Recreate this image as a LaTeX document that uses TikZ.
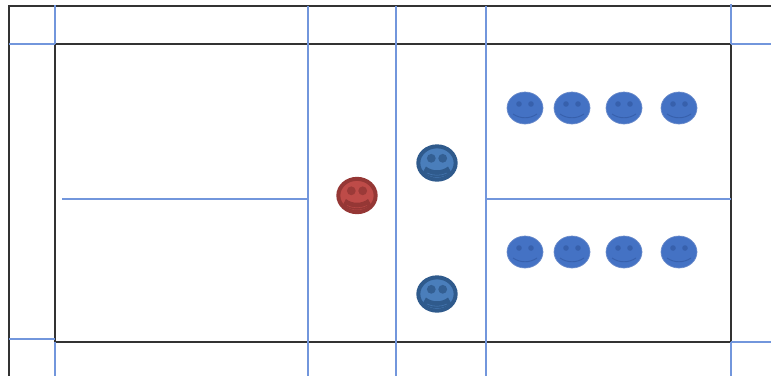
\documentclass[tikz,border=0pt]{standalone}
\usepackage{xcolor}
\usetikzlibrary{shapes.geometric}
\definecolor{CourtBlack}{HTML}{333333}
\definecolor{CourtBlue}{HTML}{7296DC}
\definecolor{SmallFill}{HTML}{4472C4}
\definecolor{SmallEdge}{HTML}{6C8CCB}
\definecolor{SmallDark}{HTML}{3760AC}
\definecolor{BlueFill}{HTML}{4A7EBB}
\definecolor{BlueDark}{HTML}{2F5A8C}
\definecolor{RedFill}{HTML}{BE4B48}
\definecolor{RedDark}{HTML}{953735}
\tikzset{
  border/.style={draw=CourtBlack,line width=1.5pt},
  guide/.style={draw=CourtBlue,line width=1.5pt},
  smallbody/.style={ellipse,draw=SmallEdge,line width=0.5pt,fill=SmallFill,inner sep=0pt,
    minimum width=27pt,minimum height=24pt},
  bigbody/.style={ellipse,line width=3pt,inner sep=0pt,
    minimum width=28pt,minimum height=25pt}
}
% small smiley: name, x, y
\newcommand{\smallface}[3]{
  \node[smallbody] (#1) at (#2,#3) {};
  \begin{scope}[shift={(#1.center)}]
    \fill[SmallDark] (-6,-4) circle (2.8);
    \fill[SmallDark] (6,-4) circle (2.8);
    \draw[SmallDark,line width=0.7pt] (-12,6) .. controls (-5,11) and (5,11) .. (12,6);
  \end{scope}
}
% big smiley: name, x, y, fill colour, dark colour
\newcommand{\bigface}[5]{
  \node[bigbody,draw=#5,fill=#4] (#1) at (#2,#3) {};
  \begin{scope}[shift={(#1.center)}]
    \fill[#5!85!#4] (-5.7,-4.7) circle (4.4);
    \fill[#5!85!#4] (5.7,-4.7) circle (4.4);
    \fill[#5] (-11,3.5) .. controls (-5,8.5) and (5,8.5) .. (11,3.5) -- (14,9)
      .. controls (6,16) and (-6,16) .. (-14,9) -- cycle;
    \draw[#4!80!#5,line width=0.4pt] (-10,10) .. controls (-4,13) and (4,13) .. (10,10);
  \end{scope}
}

\begin{document}
\begin{tikzpicture}[x=0.75pt,y=-0.75pt]
  \useasboundingbox (0,0) rectangle (771,376);
  % outer lines and inner court
  \draw[border] (771,6)--(9,6)--(9,376);
  \draw[border] (55,44) rectangle (731,342);
  % guides
  \draw[guide] (55,5)--(55,44); \draw[guide] (55,342)--(55,376);
  \draw[guide] (731,4)--(731,44); \draw[guide] (731,342)--(731,376);
  \draw[guide] (9,44)--(55,44); \draw[guide] (9,339)--(55,339);
  \draw[guide] (731,44)--(771,44); \draw[guide] (731,342)--(771,342);
  \draw[guide] (308,6)--(308,376); \draw[guide] (396,6)--(396,376); \draw[guide] (486,6)--(486,376);
  \draw[guide] (62,199)--(308,199); \draw[guide] (486,199)--(731,199);
  % players
  \bigface{red}{357}{195.5}{RedFill}{RedDark}
  \bigface{blueA}{437}{163}{BlueFill}{BlueDark}
  \bigface{blueB}{437}{294}{BlueFill}{BlueDark}
  \smallface{a1}{525}{108}
  \smallface{a2}{572}{108}
  \smallface{a3}{624}{108}
  \smallface{a4}{679}{108}
  \smallface{b1}{525}{252}
  \smallface{b2}{572}{252}
  \smallface{b3}{624}{252}
  \smallface{b4}{679}{252}
\end{tikzpicture}
\end{document}
